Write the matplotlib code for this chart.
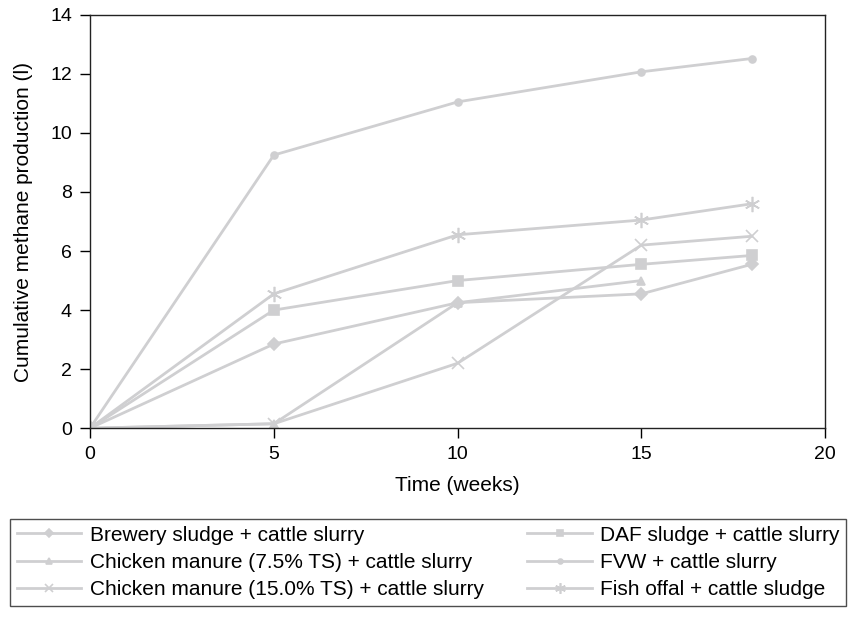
import matplotlib
matplotlib.use('Agg')
import matplotlib.pyplot as plt

plt.rcParams['font.family'] = ['Liberation Sans', 'DejaVu Sans']

# ── Data ─────────────────────────────────────────────────────────────────────
weeks = [0, 5, 10, 15, 18]
brewery = [0, 2.85, 4.25, 4.55, 5.55]
chicken_75 = [0, 0.15, 4.25, 5.0]
chicken_150 = [0, 0.15, 2.2, 6.2, 6.5]
daf = [0, 4.0, 5.0, 5.55, 5.85]
fvw = [0, 9.25, 11.05, 12.07, 12.52]
fish = [0, 4.55, 6.55, 7.05, 7.6]

labels = ['Brewery sludge + cattle slurry',
          'Chicken manure (7.5% TS) + cattle slurry',
          'Chicken manure (15.0% TS) + cattle slurry',
          'DAF sludge + cattle slurry',
          'FVW + cattle slurry',
          'Fish offal + cattle sludge']

GREY = '#cfcfd1'

fig = plt.figure(figsize=(8.57, 6.17), dpi=100)
ax = fig.add_axes([0.105, 0.306, 0.858, 0.670])

series = [
    (weeks, brewery, 'D', 6),
    (weeks[:4], chicken_75, '^', 6),
    (weeks, chicken_150, 'x', 9),
    (weeks, daf, 's', 7),
    (weeks, fvw, 'o', 5),
    (weeks, fish, (6, 2, 0), 11),
]
handles = []
for (x, y, m, ms), lab in zip(series, labels):
    h, = ax.plot(x, y, color=GREY, lw=2, marker=m, ms=ms, mec=GREY, mfc=GREY,
                 mew=1.2, label=lab)
    handles.append(h)

ax.set_xlim(0, 20)
ax.set_ylim(0, 14)
ax.set_xticks([0, 5, 10, 15, 20])
ax.set_yticks(range(0, 15, 2))
ax.tick_params(direction='out', length=7, labelsize=14, width=1, pad=6)
ax.set_xlabel('Time (weeks)', fontsize=15, labelpad=9)
ax.set_ylabel('Cumulative methane production (l)', fontsize=15, labelpad=12)
for sp in ax.spines.values():
    sp.set_linewidth(1)
    sp.set_color('#222')

leg = fig.legend(handles=handles, ncol=2, loc='upper left',
                 bbox_to_anchor=(0.0, 0.175), fontsize=15,
                 frameon=True, fancybox=False, edgecolor='#222',
                 handlelength=3.1, handletextpad=0.4, columnspacing=2.1,
                 borderpad=0.3, markerscale=0.7, labelspacing=0.4)
leg.get_frame().set_linewidth(1)

fig.savefig('out.png', dpi=100)
